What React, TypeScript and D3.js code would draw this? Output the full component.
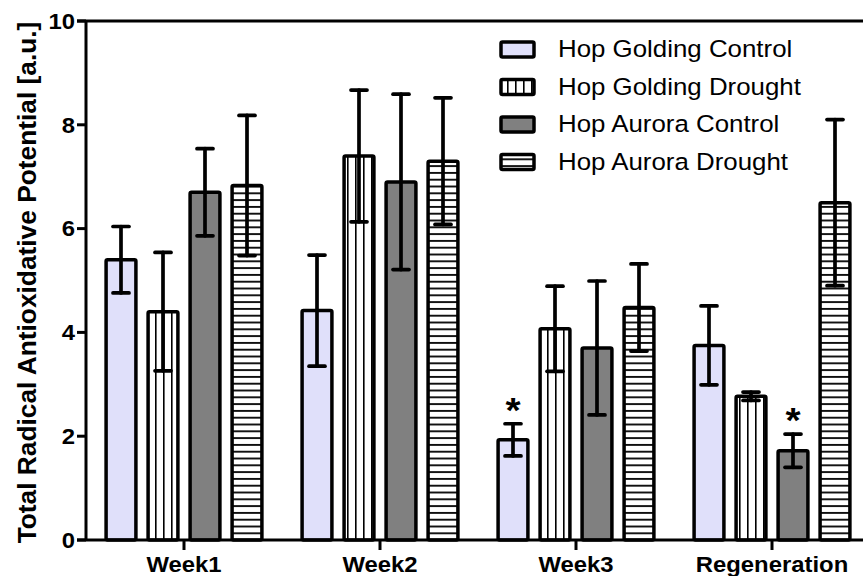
import React from 'react';
import * as d3 from 'd3';

const categories = ['Week1', 'Week2', 'Week3', 'Regeneration'];
const seriesNames = ['Hop Golding Control', 'Hop Golding Drought', 'Hop Aurora Control', 'Hop Aurora Drought'];
const goldingControl = [5.4, 4.42, 1.93, 3.75];
const goldingDrought = [4.4, 7.4, 4.07, 2.77];
const auroraControl = [6.7, 6.9, 3.7, 1.72];
const auroraDrought = [6.83, 7.3, 4.48, 6.5];
const goldingControlErr = [0.64, 1.07, 0.31, 0.76];
const goldingDroughtErr = [1.14, 1.27, 0.82, 0.08];
const auroraControlErr = [0.84, 1.69, 1.29, 0.32];
const auroraDroughtErr = [1.35, 1.22, 0.84, 1.6];
const yTicks = [0, 2, 4, 6, 8, 10];
// significance markers: [category index, series index]
const stars = [[2, 0], [3, 2]];

const values = [goldingControl, goldingDrought, auroraControl, auroraDrought];
const errors = [goldingControlErr, goldingDroughtErr, auroraControlErr, auroraDroughtErr];
const fills = ['#e0e0fa', 'url(#vstripe)', '#808080', 'url(#hstripe)'];

const W = 863;
const H = 576;
const axisX = 86;
const font = 'Liberation Sans, Arial, sans-serif';
// the original picture is a little wider than tall, so the text is stretched sideways
const sx = 1.11;

const at = (x: number, y: number) => `translate(${x},${y}) scale(${sx},1)`;

export default function App() {
  const y = d3.scaleLinear().domain([0, 10]).range([540, 21]);
  const x = d3.scaleBand().domain(categories).range([axisX, axisX + 4 * 196]).padding(0);
  const inner = d3.scaleBand<number>().domain([0, 1, 2, 3]).range([-84, 84]).paddingInner(0.29).paddingOuter(0.145);
  const bw = inner.bandwidth();
  const cap = 8;

  return (
    <svg width={W} height={H} style={{ position: 'absolute', left: 0, top: 0, background: '#fff' }} fontFamily={font}>
      <defs>
        <pattern id="vstripe" patternUnits="userSpaceOnUse" width={8} height={10}>
          <rect width={8} height={10} fill="#fff" />
          <rect x={3} width={1.6} height={10} fill="#000" />
        </pattern>
        <pattern id="hstripe" patternUnits="userSpaceOnUse" width={10} height={6.8}>
          <rect width={10} height={6.8} fill="#fff" />
          <rect y={2} width={10} height={1.8} fill="#000" />
        </pattern>
      </defs>

      {/* bars */}
      {categories.map((c, ci) => {
        const cx = x(c)! + x.bandwidth() / 2;
        return (
          <g key={c}>
            {values.map((vals, si) => {
              const bx = cx + inner(si)!;
              const v = vals[ci];
              return (
                <rect key={si} x={bx} y={y(v)} width={bw} height={y(0) - y(v)}
                  fill={fills[si]} stroke="#000" strokeWidth={3.5} rx={1.5} />
              );
            })}
            {values.map((vals, si) => {
              const mx = cx + inner(si)! + bw / 2;
              const v = vals[ci];
              const e = errors[si][ci];
              return (
                <g key={'e' + si} stroke="#000" strokeWidth={3.7} strokeLinecap="round">
                  <line x1={mx} x2={mx} y1={y(v + e)} y2={y(v - e)} />
                  <line x1={mx - cap} x2={mx + cap} y1={y(v + e)} y2={y(v + e)} />
                  <line x1={mx - cap} x2={mx + cap} y1={y(v - e)} y2={y(v - e)} />
                </g>
              );
            })}
          </g>
        );
      })}

      {stars.map(([ci, si]) => {
        const mx = x(categories[ci])! + x.bandwidth() / 2 + inner(si)! + bw / 2;
        const top = y(values[si][ci] + errors[si][ci]);
        return (
          <text key={`${ci}-${si}`} transform={at(mx, top - 2)} textAnchor="middle" fontSize={35} fontWeight="bold">*</text>
        );
      })}

      {/* axes */}
      <line x1={77} x2={W} y1={y(0)} y2={y(0)} stroke="#000" strokeWidth={3} />
      <line x1={77} x2={W} y1={y(10)} y2={y(10)} stroke="#000" strokeWidth={3} />
      <line x1={axisX} x2={axisX} y1={y(10)} y2={y(0)} stroke="#000" strokeWidth={3} />
      {yTicks.map(t => (
        <g key={t}>
          <line x1={77} x2={axisX} y1={y(t)} y2={y(t)} stroke="#000" strokeWidth={3} />
          <text transform={at(75, y(t))} dy="0.36em" textAnchor="end" fontSize={21.5} fontWeight="bold">{t}</text>
        </g>
      ))}
      {categories.map(c => {
        const cx = x(c)! + x.bandwidth() / 2;
        return (
          <g key={c}>
            <line x1={cx} x2={cx} y1={y(0)} y2={y(0) + 10} stroke="#000" strokeWidth={3} />
            <text transform={at(cx, 572)} textAnchor="middle" fontSize={21.5} fontWeight="bold">{c}</text>
          </g>
        );
      })}
      <text transform={`translate(36,${(y(0) + y(10)) / 2 + 2}) rotate(-90)`} textAnchor="middle"
        fontSize={26.3} fontWeight="bold">Total Radical Antioxidative Potential [a.u.]</text>

      {/* legend */}
      {seriesNames.map((n, i) => {
        const ly = 49 + i * 37.5;
        return (
          <g key={n}>
            <rect x={501} y={ly - 7} width={33} height={15} fill={fills[i]} stroke="#000" strokeWidth={3.5} rx={1.5} />
            <text transform={at(558, ly)} dy="0.36em" fontSize={23.3}>{n}</text>
          </g>
        );
      })}
    </svg>
  );
}
